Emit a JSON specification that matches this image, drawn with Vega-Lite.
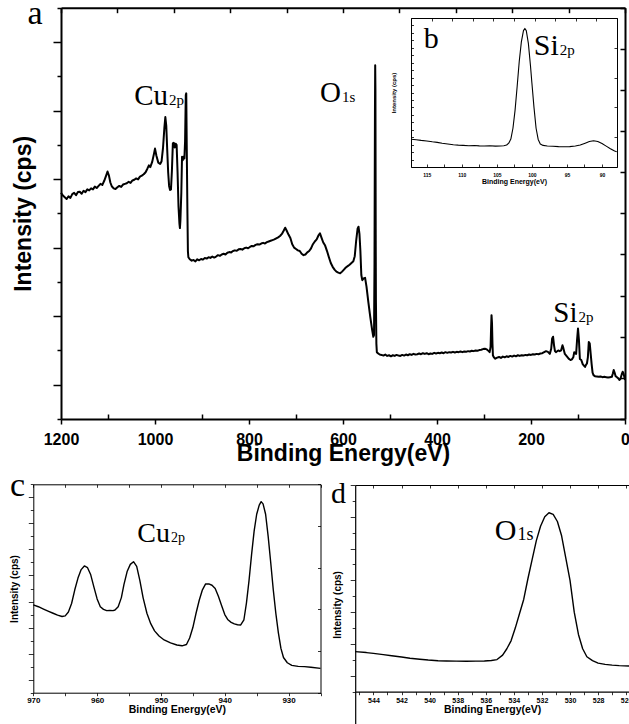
{
  "$schema": "https://vega.github.io/schema/vega-lite/v6.json",
  "width": 629,
  "height": 724,
  "autosize": {"type": "none"},
  "padding": 0,
  "background": "white",
  "config": {
    "view": {"stroke": null},
    "axis": {
      "grid": false,
      "domainColor": "black",
      "tickColor": "black",
      "labelColor": "black",
      "titleColor": "black",
      "labelFont": "Liberation Sans",
      "titleFont": "Liberation Sans",
      "labelFontWeight": "bold",
      "titleFontWeight": "bold",
      "labelFlush": false,
      "labelOverlap": false,
      "labelBound": false,
      "minExtent": 0,
      "format": "d"
    }
  },
  "datasets": {
    "survey": [
      {"energy": 1200, "intensity": 6.60}, {"energy": 1196, "intensity": 6.52}, {"energy": 1192, "intensity": 6.47}, {"energy": 1188, "intensity": 6.42}, {"energy": 1184, "intensity": 6.50}, {"energy": 1180, "intensity": 6.45},
      {"energy": 1176, "intensity": 6.56}, {"energy": 1172, "intensity": 6.60}, {"energy": 1168, "intensity": 6.53}, {"energy": 1164, "intensity": 6.62}, {"energy": 1160, "intensity": 6.63}, {"energy": 1156, "intensity": 6.57},
      {"energy": 1152, "intensity": 6.66}, {"energy": 1148, "intensity": 6.62}, {"energy": 1144, "intensity": 6.70}, {"energy": 1140, "intensity": 6.67}, {"energy": 1136, "intensity": 6.73}, {"energy": 1132, "intensity": 6.70},
      {"energy": 1128, "intensity": 6.78}, {"energy": 1124, "intensity": 6.74}, {"energy": 1120, "intensity": 6.80}, {"energy": 1116, "intensity": 6.86}, {"energy": 1112, "intensity": 6.83}, {"energy": 1108, "intensity": 6.95},
      {"energy": 1104, "intensity": 7.10}, {"energy": 1101, "intensity": 7.22}, {"energy": 1098, "intensity": 7.10}, {"energy": 1095, "intensity": 6.90}, {"energy": 1092, "intensity": 6.79}, {"energy": 1088, "intensity": 6.73},
      {"energy": 1084, "intensity": 6.71}, {"energy": 1080, "intensity": 6.76}, {"energy": 1076, "intensity": 6.80}, {"energy": 1072, "intensity": 6.77}, {"energy": 1068, "intensity": 6.84}, {"energy": 1064, "intensity": 6.86},
      {"energy": 1060, "intensity": 6.88}, {"energy": 1056, "intensity": 6.92}, {"energy": 1052, "intensity": 6.89}, {"energy": 1048, "intensity": 6.96}, {"energy": 1044, "intensity": 6.98}, {"energy": 1040, "intensity": 7.02},
      {"energy": 1036, "intensity": 6.99}, {"energy": 1032, "intensity": 7.07}, {"energy": 1028, "intensity": 7.10}, {"energy": 1024, "intensity": 7.14}, {"energy": 1020, "intensity": 7.20}, {"energy": 1016, "intensity": 7.31},
      {"energy": 1013, "intensity": 7.40}, {"energy": 1010, "intensity": 7.35}, {"energy": 1006, "intensity": 7.50}, {"energy": 1002, "intensity": 7.75}, {"energy": 1000, "intensity": 7.89}, {"energy": 997, "intensity": 7.68},
      {"energy": 993, "intensity": 7.48}, {"energy": 989, "intensity": 7.44}, {"energy": 986, "intensity": 7.52}, {"energy": 983, "intensity": 7.90}, {"energy": 980, "intensity": 8.50}, {"energy": 978, "intensity": 8.81},
      {"energy": 976, "intensity": 8.55}, {"energy": 974, "intensity": 7.85}, {"energy": 972, "intensity": 7.20}, {"energy": 970, "intensity": 6.80}, {"energy": 968, "intensity": 6.68}, {"energy": 966, "intensity": 6.70},
      {"energy": 964, "intensity": 7.25}, {"energy": 962, "intensity": 8.04}, {"energy": 960, "intensity": 8.06}, {"energy": 958, "intensity": 7.92}, {"energy": 956, "intensity": 8.03}, {"energy": 954, "intensity": 8.00},
      {"energy": 952, "intensity": 7.20}, {"energy": 950, "intensity": 6.20}, {"energy": 948, "intensity": 5.70}, {"energy": 947, "intensity": 5.57}, {"energy": 946, "intensity": 5.78}, {"energy": 944, "intensity": 6.60},
      {"energy": 942.5, "intensity": 7.65}, {"energy": 941, "intensity": 7.55}, {"energy": 939, "intensity": 7.66}, {"energy": 937.5, "intensity": 7.60}, {"energy": 936, "intensity": 8.10}, {"energy": 934.5, "intensity": 9.45},
      {"energy": 933.5, "intensity": 9.50}, {"energy": 932.5, "intensity": 8.00}, {"energy": 931, "intensity": 6.00}, {"energy": 930, "intensity": 4.90}, {"energy": 929, "intensity": 4.72}, {"energy": 926, "intensity": 4.66},
      {"energy": 922, "intensity": 4.62}, {"energy": 918, "intensity": 4.64}, {"energy": 914, "intensity": 4.60}, {"energy": 910, "intensity": 4.66}, {"energy": 906, "intensity": 4.63}, {"energy": 902, "intensity": 4.67},
      {"energy": 898, "intensity": 4.65}, {"energy": 894, "intensity": 4.70}, {"energy": 890, "intensity": 4.68}, {"energy": 886, "intensity": 4.72}, {"energy": 882, "intensity": 4.70}, {"energy": 878, "intensity": 4.74},
      {"energy": 874, "intensity": 4.71}, {"energy": 870, "intensity": 4.74}, {"energy": 866, "intensity": 4.78}, {"energy": 862, "intensity": 4.76}, {"energy": 858, "intensity": 4.80}, {"energy": 854, "intensity": 4.82},
      {"energy": 850, "intensity": 4.80}, {"energy": 846, "intensity": 4.85}, {"energy": 842, "intensity": 4.87}, {"energy": 838, "intensity": 4.86}, {"energy": 834, "intensity": 4.90}, {"energy": 830, "intensity": 4.92},
      {"energy": 826, "intensity": 4.91}, {"energy": 822, "intensity": 4.95}, {"energy": 818, "intensity": 4.96}, {"energy": 814, "intensity": 4.94}, {"energy": 810, "intensity": 4.98}, {"energy": 806, "intensity": 5.00},
      {"energy": 802, "intensity": 4.98}, {"energy": 798, "intensity": 5.02}, {"energy": 794, "intensity": 5.05}, {"energy": 790, "intensity": 5.04}, {"energy": 786, "intensity": 5.08}, {"energy": 782, "intensity": 5.10},
      {"energy": 778, "intensity": 5.09}, {"energy": 774, "intensity": 5.12}, {"energy": 770, "intensity": 5.14}, {"energy": 766, "intensity": 5.12}, {"energy": 762, "intensity": 5.16}, {"energy": 758, "intensity": 5.18},
      {"energy": 754, "intensity": 5.20}, {"energy": 750, "intensity": 5.22}, {"energy": 746, "intensity": 5.24}, {"energy": 742, "intensity": 5.27}, {"energy": 738, "intensity": 5.30}, {"energy": 734, "intensity": 5.34},
      {"energy": 730, "intensity": 5.40}, {"energy": 726, "intensity": 5.50}, {"energy": 723, "intensity": 5.58}, {"energy": 720, "intensity": 5.50}, {"energy": 716, "intensity": 5.38}, {"energy": 712, "intensity": 5.28},
      {"energy": 708, "intensity": 5.10}, {"energy": 704, "intensity": 5.00}, {"energy": 700, "intensity": 4.96}, {"energy": 696, "intensity": 4.92}, {"energy": 692, "intensity": 4.90}, {"energy": 688, "intensity": 4.82},
      {"energy": 684, "intensity": 4.78}, {"energy": 680, "intensity": 4.80}, {"energy": 676, "intensity": 4.86}, {"energy": 672, "intensity": 4.90}, {"energy": 668, "intensity": 4.98}, {"energy": 664, "intensity": 5.10},
      {"energy": 660, "intensity": 5.18}, {"energy": 656, "intensity": 5.24}, {"energy": 652, "intensity": 5.36}, {"energy": 649, "intensity": 5.42}, {"energy": 646, "intensity": 5.30}, {"energy": 642, "intensity": 5.15},
      {"energy": 638, "intensity": 5.06}, {"energy": 634, "intensity": 4.90}, {"energy": 630, "intensity": 4.72}, {"energy": 626, "intensity": 4.55}, {"energy": 622, "intensity": 4.44}, {"energy": 618, "intensity": 4.36},
      {"energy": 614, "intensity": 4.30}, {"energy": 610, "intensity": 4.27}, {"energy": 606, "intensity": 4.25}, {"energy": 602, "intensity": 4.30}, {"energy": 598, "intensity": 4.36}, {"energy": 594, "intensity": 4.42},
      {"energy": 590, "intensity": 4.46}, {"energy": 586, "intensity": 4.50}, {"energy": 582, "intensity": 4.55}, {"energy": 578, "intensity": 4.60}, {"energy": 575, "intensity": 4.75}, {"energy": 572, "intensity": 5.20},
      {"energy": 569, "intensity": 5.55}, {"energy": 567, "intensity": 5.61}, {"energy": 565, "intensity": 5.40}, {"energy": 563, "intensity": 4.90}, {"energy": 561, "intensity": 4.20}, {"energy": 559, "intensity": 4.05},
      {"energy": 556, "intensity": 4.10}, {"energy": 553, "intensity": 4.12}, {"energy": 550, "intensity": 3.86}, {"energy": 546, "intensity": 3.40}, {"energy": 542, "intensity": 2.98}, {"energy": 538, "intensity": 2.60},
      {"energy": 535.5, "intensity": 2.40}, {"energy": 534, "intensity": 2.45}, {"energy": 533, "intensity": 4.50}, {"energy": 532, "intensity": 9.00}, {"energy": 531.5, "intensity": 10.32}, {"energy": 531, "intensity": 9.60},
      {"energy": 530.5, "intensity": 6.00}, {"energy": 530, "intensity": 3.50}, {"energy": 529, "intensity": 2.20}, {"energy": 528, "intensity": 1.95}, {"energy": 525, "intensity": 1.91}, {"energy": 522, "intensity": 1.88},
      {"energy": 518, "intensity": 1.87}, {"energy": 514, "intensity": 1.85}, {"energy": 510, "intensity": 1.88}, {"energy": 506, "intensity": 1.84}, {"energy": 502, "intensity": 1.86}, {"energy": 498, "intensity": 1.83},
      {"energy": 494, "intensity": 1.86}, {"energy": 490, "intensity": 1.84}, {"energy": 486, "intensity": 1.87}, {"energy": 482, "intensity": 1.85}, {"energy": 478, "intensity": 1.84}, {"energy": 474, "intensity": 1.87},
      {"energy": 470, "intensity": 1.85}, {"energy": 466, "intensity": 1.88}, {"energy": 462, "intensity": 1.86}, {"energy": 458, "intensity": 1.89}, {"energy": 454, "intensity": 1.87}, {"energy": 450, "intensity": 1.90},
      {"energy": 446, "intensity": 1.88}, {"energy": 442, "intensity": 1.89}, {"energy": 438, "intensity": 1.91}, {"energy": 434, "intensity": 1.89}, {"energy": 430, "intensity": 1.92}, {"energy": 426, "intensity": 1.90},
      {"energy": 422, "intensity": 1.92}, {"energy": 418, "intensity": 1.89}, {"energy": 414, "intensity": 1.91}, {"energy": 410, "intensity": 1.90}, {"energy": 406, "intensity": 1.93}, {"energy": 402, "intensity": 1.91},
      {"energy": 398, "intensity": 1.93}, {"energy": 394, "intensity": 1.92}, {"energy": 390, "intensity": 1.94}, {"energy": 386, "intensity": 1.92}, {"energy": 382, "intensity": 1.95}, {"energy": 378, "intensity": 1.93},
      {"energy": 374, "intensity": 1.95}, {"energy": 370, "intensity": 1.94}, {"energy": 366, "intensity": 1.96}, {"energy": 362, "intensity": 1.94}, {"energy": 358, "intensity": 1.96}, {"energy": 354, "intensity": 1.95},
      {"energy": 350, "intensity": 1.97}, {"energy": 346, "intensity": 1.95}, {"energy": 342, "intensity": 1.97}, {"energy": 338, "intensity": 1.96}, {"energy": 334, "intensity": 1.98}, {"energy": 330, "intensity": 1.97},
      {"energy": 326, "intensity": 1.99}, {"energy": 322, "intensity": 1.98}, {"energy": 318, "intensity": 2.00}, {"energy": 314, "intensity": 1.99}, {"energy": 310, "intensity": 2.01}, {"energy": 306, "intensity": 2.02},
      {"energy": 302, "intensity": 2.04}, {"energy": 298, "intensity": 2.05}, {"energy": 294, "intensity": 2.03}, {"energy": 290, "intensity": 1.98}, {"energy": 288, "intensity": 1.95}, {"energy": 286, "intensity": 2.10},
      {"energy": 285, "intensity": 2.60}, {"energy": 284, "intensity": 3.03}, {"energy": 283, "intensity": 2.80}, {"energy": 282, "intensity": 2.20}, {"energy": 281, "intensity": 1.85}, {"energy": 279, "intensity": 1.80},
      {"energy": 276, "intensity": 1.76}, {"energy": 272, "intensity": 1.79}, {"energy": 268, "intensity": 1.81}, {"energy": 264, "intensity": 1.78}, {"energy": 260, "intensity": 1.82}, {"energy": 256, "intensity": 1.80},
      {"energy": 252, "intensity": 1.83}, {"energy": 248, "intensity": 1.81}, {"energy": 244, "intensity": 1.84}, {"energy": 240, "intensity": 1.82}, {"energy": 236, "intensity": 1.85}, {"energy": 232, "intensity": 1.83},
      {"energy": 228, "intensity": 1.86}, {"energy": 224, "intensity": 1.84}, {"energy": 220, "intensity": 1.86}, {"energy": 216, "intensity": 1.85}, {"energy": 212, "intensity": 1.87}, {"energy": 208, "intensity": 1.86},
      {"energy": 204, "intensity": 1.88}, {"energy": 200, "intensity": 1.87}, {"energy": 196, "intensity": 1.89}, {"energy": 192, "intensity": 1.88}, {"energy": 188, "intensity": 1.90}, {"energy": 184, "intensity": 1.89},
      {"energy": 180, "intensity": 1.91}, {"energy": 176, "intensity": 1.92}, {"energy": 172, "intensity": 1.95}, {"energy": 168, "intensity": 1.98}, {"energy": 164, "intensity": 1.96}, {"energy": 160, "intensity": 1.90},
      {"energy": 157, "intensity": 2.05}, {"energy": 155, "intensity": 2.35}, {"energy": 153, "intensity": 2.40}, {"energy": 151, "intensity": 2.15}, {"energy": 149, "intensity": 1.98}, {"energy": 147, "intensity": 1.95},
      {"energy": 145, "intensity": 1.97}, {"energy": 142, "intensity": 2.00}, {"energy": 139, "intensity": 1.98}, {"energy": 136, "intensity": 2.00}, {"energy": 133, "intensity": 2.15}, {"energy": 131, "intensity": 2.06},
      {"energy": 128, "intensity": 1.90}, {"energy": 125, "intensity": 1.85}, {"energy": 122, "intensity": 1.80}, {"energy": 119, "intensity": 1.75}, {"energy": 116, "intensity": 1.72}, {"energy": 113, "intensity": 1.74},
      {"energy": 110, "intensity": 1.80}, {"energy": 108, "intensity": 1.95}, {"energy": 106, "intensity": 1.92}, {"energy": 104, "intensity": 1.90}, {"energy": 102, "intensity": 2.30}, {"energy": 100, "intensity": 2.64},
      {"energy": 98, "intensity": 2.30}, {"energy": 96, "intensity": 1.75}, {"energy": 93, "intensity": 1.72}, {"energy": 90, "intensity": 1.60}, {"energy": 87, "intensity": 1.55}, {"energy": 85, "intensity": 1.52},
      {"energy": 83, "intensity": 1.58}, {"energy": 81, "intensity": 1.62}, {"energy": 79, "intensity": 1.80}, {"energy": 77, "intensity": 2.25}, {"energy": 75, "intensity": 2.20}, {"energy": 73, "intensity": 1.90},
      {"energy": 71, "intensity": 1.60}, {"energy": 69, "intensity": 1.35}, {"energy": 67, "intensity": 1.28}, {"energy": 64, "intensity": 1.25}, {"energy": 60, "intensity": 1.24}, {"energy": 56, "intensity": 1.23},
      {"energy": 52, "intensity": 1.24}, {"energy": 48, "intensity": 1.22}, {"energy": 44, "intensity": 1.23}, {"energy": 40, "intensity": 1.22}, {"energy": 36, "intensity": 1.21}, {"energy": 32, "intensity": 1.22},
      {"energy": 28, "intensity": 1.23}, {"energy": 26, "intensity": 1.32}, {"energy": 24, "intensity": 1.43}, {"energy": 22, "intensity": 1.35}, {"energy": 20, "intensity": 1.25}, {"energy": 17, "intensity": 1.22},
      {"energy": 14, "intensity": 1.18}, {"energy": 12, "intensity": 1.14}, {"energy": 10, "intensity": 1.16}, {"energy": 7, "intensity": 1.30}, {"energy": 5, "intensity": 1.38}, {"energy": 3, "intensity": 1.32},
      {"energy": 1, "intensity": 1.20}, {"energy": 0, "intensity": 1.14}
    ],
    "si": [
      {"energy": 117.2, "intensity": 3.72}, {"energy": 116.5, "intensity": 3.66}, {"energy": 115.8, "intensity": 3.57}, {"energy": 115.0, "intensity": 3.50}, {"energy": 114.2, "intensity": 3.38}, {"energy": 113.5, "intensity": 3.31},
      {"energy": 112.8, "intensity": 3.18}, {"energy": 112.0, "intensity": 3.08}, {"energy": 111.2, "intensity": 2.98}, {"energy": 110.5, "intensity": 2.93}, {"energy": 109.8, "intensity": 2.90}, {"energy": 109.0, "intensity": 2.86},
      {"energy": 108.2, "intensity": 2.88}, {"energy": 107.5, "intensity": 2.84}, {"energy": 106.8, "intensity": 2.82}, {"energy": 106.0, "intensity": 2.85}, {"energy": 105.2, "intensity": 2.80}, {"energy": 104.5, "intensity": 2.82},
      {"energy": 104.0, "intensity": 2.86}, {"energy": 103.6, "intensity": 2.95}, {"energy": 103.3, "intensity": 3.20}, {"energy": 103.0, "intensity": 3.75}, {"energy": 102.7, "intensity": 5.20}, {"energy": 102.4, "intensity": 7.60},
      {"energy": 102.1, "intensity": 10.80}, {"energy": 101.8, "intensity": 14.20}, {"energy": 101.5, "intensity": 16.80}, {"energy": 101.2, "intensity": 18.30}, {"energy": 101.0, "intensity": 18.60}, {"energy": 100.8, "intensity": 18.30},
      {"energy": 100.5, "intensity": 16.60}, {"energy": 100.2, "intensity": 13.60}, {"energy": 100.0, "intensity": 11.30}, {"energy": 99.7, "intensity": 8.00}, {"energy": 99.4, "intensity": 5.20}, {"energy": 99.1, "intensity": 3.70},
      {"energy": 98.8, "intensity": 3.10}, {"energy": 98.4, "intensity": 2.90}, {"energy": 97.8, "intensity": 2.82}, {"energy": 97.0, "intensity": 2.78}, {"energy": 96.2, "intensity": 2.74}, {"energy": 95.4, "intensity": 2.72},
      {"energy": 94.6, "intensity": 2.74}, {"energy": 93.8, "intensity": 2.82}, {"energy": 93.1, "intensity": 2.95}, {"energy": 92.4, "intensity": 3.20}, {"energy": 91.8, "intensity": 3.42}, {"energy": 91.2, "intensity": 3.53},
      {"energy": 90.6, "intensity": 3.42}, {"energy": 90.0, "intensity": 3.15}, {"energy": 89.4, "intensity": 2.80}, {"energy": 88.8, "intensity": 2.45}, {"energy": 88.2, "intensity": 2.15}, {"energy": 87.9, "intensity": 2.05}
    ],
    "cu": [
      {"energy": 970.0, "intensity": 6.74}, {"energy": 969.2, "intensity": 6.60}, {"energy": 968.4, "intensity": 6.42}, {"energy": 967.6, "intensity": 6.25}, {"energy": 966.9, "intensity": 6.10}, {"energy": 966.2, "intensity": 5.95},
      {"energy": 965.5, "intensity": 5.85}, {"energy": 965.0, "intensity": 5.90}, {"energy": 964.5, "intensity": 6.20}, {"energy": 964.0, "intensity": 6.85}, {"energy": 963.5, "intensity": 7.90}, {"energy": 963.0, "intensity": 8.80},
      {"energy": 962.5, "intensity": 9.45}, {"energy": 962.0, "intensity": 9.73}, {"energy": 961.5, "intensity": 9.60}, {"energy": 961.0, "intensity": 9.05}, {"energy": 960.5, "intensity": 8.10}, {"energy": 960.0, "intensity": 7.20},
      {"energy": 959.5, "intensity": 6.60}, {"energy": 959.0, "intensity": 6.40}, {"energy": 958.5, "intensity": 6.30}, {"energy": 958.0, "intensity": 6.32}, {"energy": 957.5, "intensity": 6.30}, {"energy": 957.2, "intensity": 6.35},
      {"energy": 956.7, "intensity": 6.60}, {"energy": 956.2, "intensity": 7.30}, {"energy": 955.8, "intensity": 8.30}, {"energy": 955.3, "intensity": 9.30}, {"energy": 954.8, "intensity": 9.85}, {"energy": 954.3, "intensity": 10.06},
      {"energy": 953.8, "intensity": 9.70}, {"energy": 953.3, "intensity": 8.60}, {"energy": 952.8, "intensity": 7.30}, {"energy": 952.2, "intensity": 6.10}, {"energy": 951.6, "intensity": 5.30}, {"energy": 951.0, "intensity": 4.75},
      {"energy": 950.3, "intensity": 4.35}, {"energy": 949.5, "intensity": 4.05}, {"energy": 948.5, "intensity": 3.82}, {"energy": 947.5, "intensity": 3.66}, {"energy": 946.7, "intensity": 3.60}, {"energy": 946.0, "intensity": 3.70},
      {"energy": 945.5, "intensity": 4.20}, {"energy": 945.0, "intensity": 5.00}, {"energy": 944.5, "intensity": 6.10}, {"energy": 944.0, "intensity": 7.10}, {"energy": 943.5, "intensity": 7.90}, {"energy": 943.0, "intensity": 8.35},
      {"energy": 942.5, "intensity": 8.35}, {"energy": 942.0, "intensity": 8.25}, {"energy": 941.5, "intensity": 8.00}, {"energy": 941.0, "intensity": 7.40}, {"energy": 940.5, "intensity": 6.70}, {"energy": 940.0, "intensity": 6.00},
      {"energy": 939.5, "intensity": 5.60}, {"energy": 939.0, "intensity": 5.40}, {"energy": 938.5, "intensity": 5.28}, {"energy": 938.0, "intensity": 5.22}, {"energy": 937.5, "intensity": 5.20}, {"energy": 937.0, "intensity": 5.60},
      {"energy": 936.6, "intensity": 6.90}, {"energy": 936.2, "intensity": 8.60}, {"energy": 935.8, "intensity": 10.60}, {"energy": 935.4, "intensity": 12.40}, {"energy": 935.0, "intensity": 13.70}, {"energy": 934.6, "intensity": 14.40},
      {"energy": 934.3, "intensity": 14.67}, {"energy": 934.0, "intensity": 14.50}, {"energy": 933.6, "intensity": 13.70}, {"energy": 933.2, "intensity": 12.00}, {"energy": 932.8, "intensity": 10.00}, {"energy": 932.4, "intensity": 7.90},
      {"energy": 932.0, "intensity": 6.10}, {"energy": 931.6, "intensity": 4.60}, {"energy": 931.2, "intensity": 3.40}, {"energy": 930.8, "intensity": 2.70}, {"energy": 930.2, "intensity": 2.30}, {"energy": 929.5, "intensity": 2.10},
      {"energy": 928.5, "intensity": 2.02}, {"energy": 927.5, "intensity": 2.00}, {"energy": 926.5, "intensity": 1.95}, {"energy": 925.0, "intensity": 1.87}
    ],
    "o": [
      {"energy": 545.3, "intensity": 2.52}, {"energy": 544.5, "intensity": 2.46}, {"energy": 544.0, "intensity": 2.41}, {"energy": 543.3, "intensity": 2.33}, {"energy": 542.7, "intensity": 2.26}, {"energy": 542.0, "intensity": 2.18},
      {"energy": 541.4, "intensity": 2.10}, {"energy": 540.7, "intensity": 2.04}, {"energy": 540.1, "intensity": 1.99}, {"energy": 539.4, "intensity": 1.95}, {"energy": 538.8, "intensity": 1.93}, {"energy": 538.1, "intensity": 1.92},
      {"energy": 537.4, "intensity": 1.91}, {"energy": 536.7, "intensity": 1.92}, {"energy": 536.1, "intensity": 1.93}, {"energy": 535.6, "intensity": 1.96}, {"energy": 535.2, "intensity": 2.02}, {"energy": 534.8, "intensity": 2.30},
      {"energy": 534.5, "intensity": 2.70}, {"energy": 534.2, "intensity": 3.20}, {"energy": 533.9, "intensity": 4.00}, {"energy": 533.6, "intensity": 4.90}, {"energy": 533.3, "intensity": 5.80}, {"energy": 533.0, "intensity": 7.10},
      {"energy": 532.7, "intensity": 8.30}, {"energy": 532.4, "intensity": 9.50}, {"energy": 532.1, "intensity": 10.40}, {"energy": 531.8, "intensity": 11.00}, {"energy": 531.5, "intensity": 11.25}, {"energy": 531.2, "intensity": 11.15},
      {"energy": 530.9, "intensity": 10.70}, {"energy": 530.6, "intensity": 9.80}, {"energy": 530.3, "intensity": 8.40}, {"energy": 530.0, "intensity": 7.00}, {"energy": 529.7, "intensity": 5.00}, {"energy": 529.4, "intensity": 3.60},
      {"energy": 529.1, "intensity": 2.70}, {"energy": 528.8, "intensity": 2.20}, {"energy": 528.4, "intensity": 1.95}, {"energy": 528.0, "intensity": 1.80}, {"energy": 527.5, "intensity": 1.72}, {"energy": 527.0, "intensity": 1.67},
      {"energy": 526.5, "intensity": 1.64}, {"energy": 525.8, "intensity": 1.62}
    ],
    "annA": [
      {"x": 972.3, "y": 9.15, "main": "Cu", "sub": "2p"},
      {"x": 604.3, "y": 9.25, "main": "O", "sub": "1s"},
      {"x": 101.1, "y": 2.83, "main": "Si", "sub": "2p"}
    ],
    "annB": [{"x": 96.16, "y": 15.03, "main": "Si", "sub": "2p"}],
    "annC": [{"x": 948.58, "y": 11.6, "main": "Cu", "sub": "2p"}],
    "annD": [{"x": 533.81, "y": 9.54, "main": "O", "sub": "1s"}],
    "letterA": [{"x": 1255.3, "y": 11.52, "label": "a"}],
    "letterB": [{"x": 114.34, "y": 15.93, "label": "b"}],
    "letterC": [{"x": 972.48, "y": 15.1, "label": "c"}],
    "letterD": [{"x": 546.49, "y": 11.85, "label": "d"}]
  },
  "resolve": {"scale": {"x": "independent", "y": "independent"}},
  "layer": [
    {
      "layer": [
        {
          "data": {"name": "survey"},
          "mark": {"type": "line", "color": "black", "strokeWidth": 2, "strokeJoin": "round"},
          "encoding": {
            "x": {"field": "energy", "type": "quantitative", "scale": {"domain": [0, 1200], "range": [625, 61], "zero": false, "nice": false},
              "axis": {"orient": "bottom", "offset": -305, "values": [0, 100, 200, 300, 400, 500, 600, 700, 800, 900, 1000, 1100, 1200],
                "labelExpr": "datum.value % 200 == 0 ? datum.label : ''", "labelFontSize": 16, "labelPadding": 7,
                "tickSize": {"condition": {"test": "datum.value % 200 == 0", "value": 5}, "value": -5}, "tickWidth": 1.5, "domainWidth": 2,
                "title": "Binding Energy(eV)", "titleFontSize": 23, "titlePadding": -5}},
            "y": {"field": "intensity", "type": "quantitative", "scale": {"domain": [0, 12], "range": [419, 7.7], "zero": false, "nice": false},
              "axis": {"orient": "left", "offset": -61, "values": [0, 1, 2, 3, 4, 5, 6, 7, 8, 9, 10, 11, 12], "labels": false,
                "tickSize": {"condition": {"test": "datum.value % 2 == 1", "value": 8}, "value": 4}, "tickWidth": 1.5, "domainWidth": 2,
                "title": "Intensity (cps)", "titleFontSize": 23, "titlePadding": 17}}
          }
        },
        {
          "data": {"name": "letterA"},
          "mark": {"type": "text", "font": "Liberation Serif", "fontSize": 34, "align": "center", "baseline": "alphabetic", "color": "black"},
          "encoding": {
            "x": {"field": "x", "type": "quantitative", "scale": {"domain": [0, 1200], "range": [625, 61], "zero": false, "nice": false},
              "axis": {"orient": "top", "offset": -7.7, "values": [0, 120, 240, 360, 480, 600, 720, 840, 960, 1080, 1200], "labels": false, "tickSize": -5, "tickWidth": 1.5, "domainWidth": 2, "title": null}},
            "y": {"field": "y", "type": "quantitative", "scale": {"domain": [0, 12], "range": [419, 7.7], "zero": false, "nice": false},
              "axis": {"orient": "right", "offset": -4, "values": [0, 1.2, 2.4, 3.6, 4.8, 6, 7.2, 8.4, 9.6, 10.8, 12], "labels": false, "tickSize": -5, "tickWidth": 1.5, "domainWidth": 2, "title": null}},
            "text": {"field": "label"}
          }
        },
        {
          "data": {"name": "annA"},
          "mark": {"type": "text", "font": "Liberation Serif", "fontSize": 29, "align": "right", "baseline": "alphabetic", "color": "black"},
          "encoding": {
            "x": {"field": "x", "type": "quantitative", "scale": {"domain": [0, 1200], "range": [625, 61], "zero": false, "nice": false}, "axis": null},
            "y": {"field": "y", "type": "quantitative", "scale": {"domain": [0, 12], "range": [419, 7.7], "zero": false, "nice": false}, "axis": null},
            "text": {"field": "main"}
          }
        },
        {
          "data": {"name": "annA"},
          "mark": {"type": "text", "font": "Liberation Serif", "fontSize": 15, "align": "left", "baseline": "alphabetic", "color": "black", "dx": 1},
          "encoding": {
            "x": {"field": "x", "type": "quantitative", "scale": {"domain": [0, 1200], "range": [625, 61], "zero": false, "nice": false}, "axis": null},
            "y": {"field": "y", "type": "quantitative", "scale": {"domain": [0, 12], "range": [419, 7.7], "zero": false, "nice": false}, "axis": null},
            "text": {"field": "sub"}
          }
        }
      ]
    },
    {
      "layer": [
        {
          "data": {"name": "si"},
          "mark": {"type": "line", "color": "black", "strokeWidth": 1.1, "strokeJoin": "round"},
          "encoding": {
            "x": {"field": "energy", "type": "quantitative", "scale": {"domain": [87.86, 117.24], "range": [617, 411], "zero": false, "nice": false},
              "axis": {"orient": "bottom", "offset": -557, "values": [90, 92.5, 95, 97.5, 100, 102.5, 105, 107.5, 110, 112.5, 115],
                "labelExpr": "datum.value % 5 == 0 ? datum.label : ''", "labelFontSize": 5, "labelPadding": 8,
                "tickSize": -3, "tickWidth": 0.8, "domainWidth": 1,
                "title": "Binding Energy(eV)", "titleFontSize": 7, "titlePadding": 0}},
            "y": {"field": "intensity", "type": "quantitative", "scale": {"domain": [0, 20], "range": [167, 18], "zero": false, "nice": false},
              "axis": {"orient": "left", "offset": -411, "values": [0, 1, 2, 3, 4, 5, 6, 7, 8, 9, 10, 11, 12, 13, 14, 15, 16, 17, 18, 19, 20], "labels": false,
                "tickSize": -2.5, "tickWidth": 0.8, "domainWidth": 1,
                "title": "Intensity (cps)", "titleFontSize": 6, "titlePadding": 14}}
          }
        },
        {
          "data": {"name": "letterB"},
          "mark": {"type": "text", "font": "Liberation Serif", "fontSize": 30, "align": "center", "baseline": "alphabetic", "color": "black"},
          "encoding": {
            "x": {"field": "x", "type": "quantitative", "scale": {"domain": [87.86, 117.24], "range": [617, 411], "zero": false, "nice": false},
              "axis": {"orient": "top", "offset": -18, "values": [87.86, 90.8, 93.73, 96.67, 99.61, 102.55, 105.49, 108.43, 111.36, 114.3, 117.24], "labels": false, "tickSize": -3, "tickWidth": 0.8, "domainWidth": 1, "title": null}},
            "y": {"field": "y", "type": "quantitative", "scale": {"domain": [0, 20], "range": [167, 18], "zero": false, "nice": false},
              "axis": {"orient": "right", "offset": -12, "values": [0, 4, 8, 12, 16, 20], "labels": false, "tickSize": -3, "tickWidth": 0.8, "domainWidth": 1, "title": null}},
            "text": {"field": "label"}
          }
        },
        {
          "data": {"name": "annB"},
          "mark": {"type": "text", "font": "Liberation Serif", "fontSize": 30, "align": "right", "baseline": "alphabetic", "color": "black"},
          "encoding": {
            "x": {"field": "x", "type": "quantitative", "scale": {"domain": [87.86, 117.24], "range": [617, 411], "zero": false, "nice": false}, "axis": null},
            "y": {"field": "y", "type": "quantitative", "scale": {"domain": [0, 20], "range": [167, 18], "zero": false, "nice": false}, "axis": null},
            "text": {"field": "main"}
          }
        },
        {
          "data": {"name": "annB"},
          "mark": {"type": "text", "font": "Liberation Serif", "fontSize": 15, "align": "left", "baseline": "alphabetic", "color": "black", "dx": 1},
          "encoding": {
            "x": {"field": "x", "type": "quantitative", "scale": {"domain": [87.86, 117.24], "range": [617, 411], "zero": false, "nice": false}, "axis": null},
            "y": {"field": "y", "type": "quantitative", "scale": {"domain": [0, 20], "range": [167, 18], "zero": false, "nice": false}, "axis": null},
            "text": {"field": "sub"}
          }
        }
      ]
    },
    {
      "layer": [
        {
          "data": {"name": "cu"},
          "mark": {"type": "line", "color": "black", "strokeWidth": 1.4, "strokeJoin": "round"},
          "encoding": {
            "x": {"field": "energy", "type": "quantitative", "scale": {"domain": [925, 970], "range": [320.5, 33.3], "zero": false, "nice": false},
              "axis": {"orient": "bottom", "offset": -31.3, "values": [925, 930, 935, 940, 945, 950, 955, 960, 965, 970],
                "labelExpr": "datum.value % 10 == 0 ? datum.label : ''", "labelFontSize": 8, "labelPadding": 1,
                "tickSize": 3, "tickWidth": 0.8, "domainWidth": 1,
                "title": "Binding Energy(eV)", "titleFontSize": 10.5, "titlePadding": 0}},
            "y": {"field": "intensity", "type": "quantitative", "scale": {"domain": [0, 16], "range": [692.7, 484.3], "zero": false, "nice": false},
              "axis": {"orient": "left", "offset": -33.3, "values": [0, 1, 2, 3, 4, 5, 6, 7, 8, 9, 10, 11, 12, 13, 14, 15, 16], "labels": false,
                "tickSize": {"condition": {"test": "datum.value % 2 == 1", "value": 5}, "value": 3}, "tickWidth": 0.8, "domainWidth": 1,
                "title": "Intensity (cps)", "titleFontSize": 10, "titlePadding": 8}}
          }
        },
        {
          "data": {"name": "letterC"},
          "mark": {"type": "text", "font": "Liberation Serif", "fontSize": 34, "align": "center", "baseline": "alphabetic", "color": "black"},
          "encoding": {
            "x": {"field": "x", "type": "quantitative", "scale": {"domain": [925, 970], "range": [320.5, 33.3], "zero": false, "nice": false},
              "axis": {"orient": "top", "offset": -484.3, "values": [925, 930, 935, 940, 945, 950, 955, 960, 965, 970], "labels": false, "tickSize": -3, "tickWidth": 0.8, "domainWidth": 1, "title": null}},
            "y": {"field": "y", "type": "quantitative", "scale": {"domain": [0, 16], "range": [692.7, 484.3], "zero": false, "nice": false},
              "axis": {"orient": "right", "offset": -308.5, "values": [0, 3.2, 6.4, 9.6, 12.8, 16], "labels": false, "tickSize": -3, "tickWidth": 0.8, "domainWidth": 1, "title": null}},
            "text": {"field": "label"}
          }
        },
        {
          "data": {"name": "annC"},
          "mark": {"type": "text", "font": "Liberation Serif", "fontSize": 28, "align": "right", "baseline": "alphabetic", "color": "black"},
          "encoding": {
            "x": {"field": "x", "type": "quantitative", "scale": {"domain": [925, 970], "range": [320.5, 33.3], "zero": false, "nice": false}, "axis": null},
            "y": {"field": "y", "type": "quantitative", "scale": {"domain": [0, 16], "range": [692.7, 484.3], "zero": false, "nice": false}, "axis": null},
            "text": {"field": "main"}
          }
        },
        {
          "data": {"name": "annC"},
          "mark": {"type": "text", "font": "Liberation Serif", "fontSize": 14, "align": "left", "baseline": "alphabetic", "color": "black", "dx": 1},
          "encoding": {
            "x": {"field": "x", "type": "quantitative", "scale": {"domain": [925, 970], "range": [320.5, 33.3], "zero": false, "nice": false}, "axis": null},
            "y": {"field": "y", "type": "quantitative", "scale": {"domain": [0, 16], "range": [692.7, 484.3], "zero": false, "nice": false}, "axis": null},
            "text": {"field": "sub"}
          }
        }
      ]
    },
    {
      "layer": [
        {
          "data": {"name": "o"},
          "mark": {"type": "line", "color": "black", "strokeWidth": 1.4, "strokeJoin": "round"},
          "encoding": {
            "x": {"field": "energy", "type": "quantitative", "scale": {"domain": [525.8, 545.3], "range": [629, 355.2], "zero": false, "nice": false},
              "axis": {"orient": "bottom", "offset": -32.3, "zindex": 2, "values": [526, 527, 528, 529, 530, 531, 532, 533, 534, 535, 536, 537, 538, 539, 540, 541, 542, 543, 544, 545],
                "labelExpr": "datum.value % 2 == 0 ? datum.label : ''", "labelFontSize": 7, "labelPadding": 2,
                "tickSize": 3, "tickWidth": 0.8, "domainWidth": 1.2,
                "title": "Binding Energy(eV)", "titleFontSize": 10.5, "titlePadding": 1}},
            "y": {"field": "intensity", "type": "quantitative", "scale": {"domain": [-2.03, 13], "range": [724, 484.9], "zero": false, "nice": false},
              "axis": {"orient": "left", "offset": -355.2, "zindex": 2, "values": [0, 1, 2, 3, 4, 5, 6, 7, 8, 9, 10, 11, 12, 13], "labels": false,
                "tickSize": {"condition": {"test": "datum.value % 2 == 1", "value": 5}, "value": 3}, "tickWidth": 0.8, "domainWidth": 1.2,
                "title": "Intensity (cps)", "titleFontSize": 10, "titlePadding": 7}}
          }
        },
        {
          "data": {"name": "letterD"},
          "mark": {"type": "text", "font": "Liberation Serif", "fontSize": 30, "align": "center", "baseline": "alphabetic", "color": "black"},
          "encoding": {
            "x": {"field": "x", "type": "quantitative", "scale": {"domain": [525.8, 545.3], "range": [629, 355.2], "zero": false, "nice": false},
              "axis": {"orient": "top", "offset": -485, "values": [526, 528, 530, 532, 534, 536, 538, 540, 542, 544], "labels": false, "tickSize": -3, "tickWidth": 0.8, "domainWidth": 1, "title": null}},
            "y": {"field": "y", "type": "quantitative", "scale": {"domain": [-2.03, 13], "range": [724, 484.9], "zero": false, "nice": false},
              "axis": {"orient": "right", "offset": 0, "values": [0, 13], "labels": false, "ticks": false, "domain": false, "title": null}},
            "text": {"field": "label"}
          }
        },
        {
          "data": {"name": "annD"},
          "mark": {"type": "text", "font": "Liberation Serif", "fontSize": 30, "align": "right", "baseline": "alphabetic", "color": "black"},
          "encoding": {
            "x": {"field": "x", "type": "quantitative", "scale": {"domain": [525.8, 545.3], "range": [629, 355.2], "zero": false, "nice": false}, "axis": null},
            "y": {"field": "y", "type": "quantitative", "scale": {"domain": [-2.03, 13], "range": [724, 484.9], "zero": false, "nice": false}, "axis": null},
            "text": {"field": "main"}
          }
        },
        {
          "data": {"name": "annD"},
          "mark": {"type": "text", "font": "Liberation Serif", "fontSize": 18, "align": "left", "baseline": "alphabetic", "color": "black", "dx": 1},
          "encoding": {
            "x": {"field": "x", "type": "quantitative", "scale": {"domain": [525.8, 545.3], "range": [629, 355.2], "zero": false, "nice": false}, "axis": null},
            "y": {"field": "y", "type": "quantitative", "scale": {"domain": [-2.03, 13], "range": [724, 484.9], "zero": false, "nice": false}, "axis": null},
            "text": {"field": "sub"}
          }
        }
      ]
    }
  ]
}
